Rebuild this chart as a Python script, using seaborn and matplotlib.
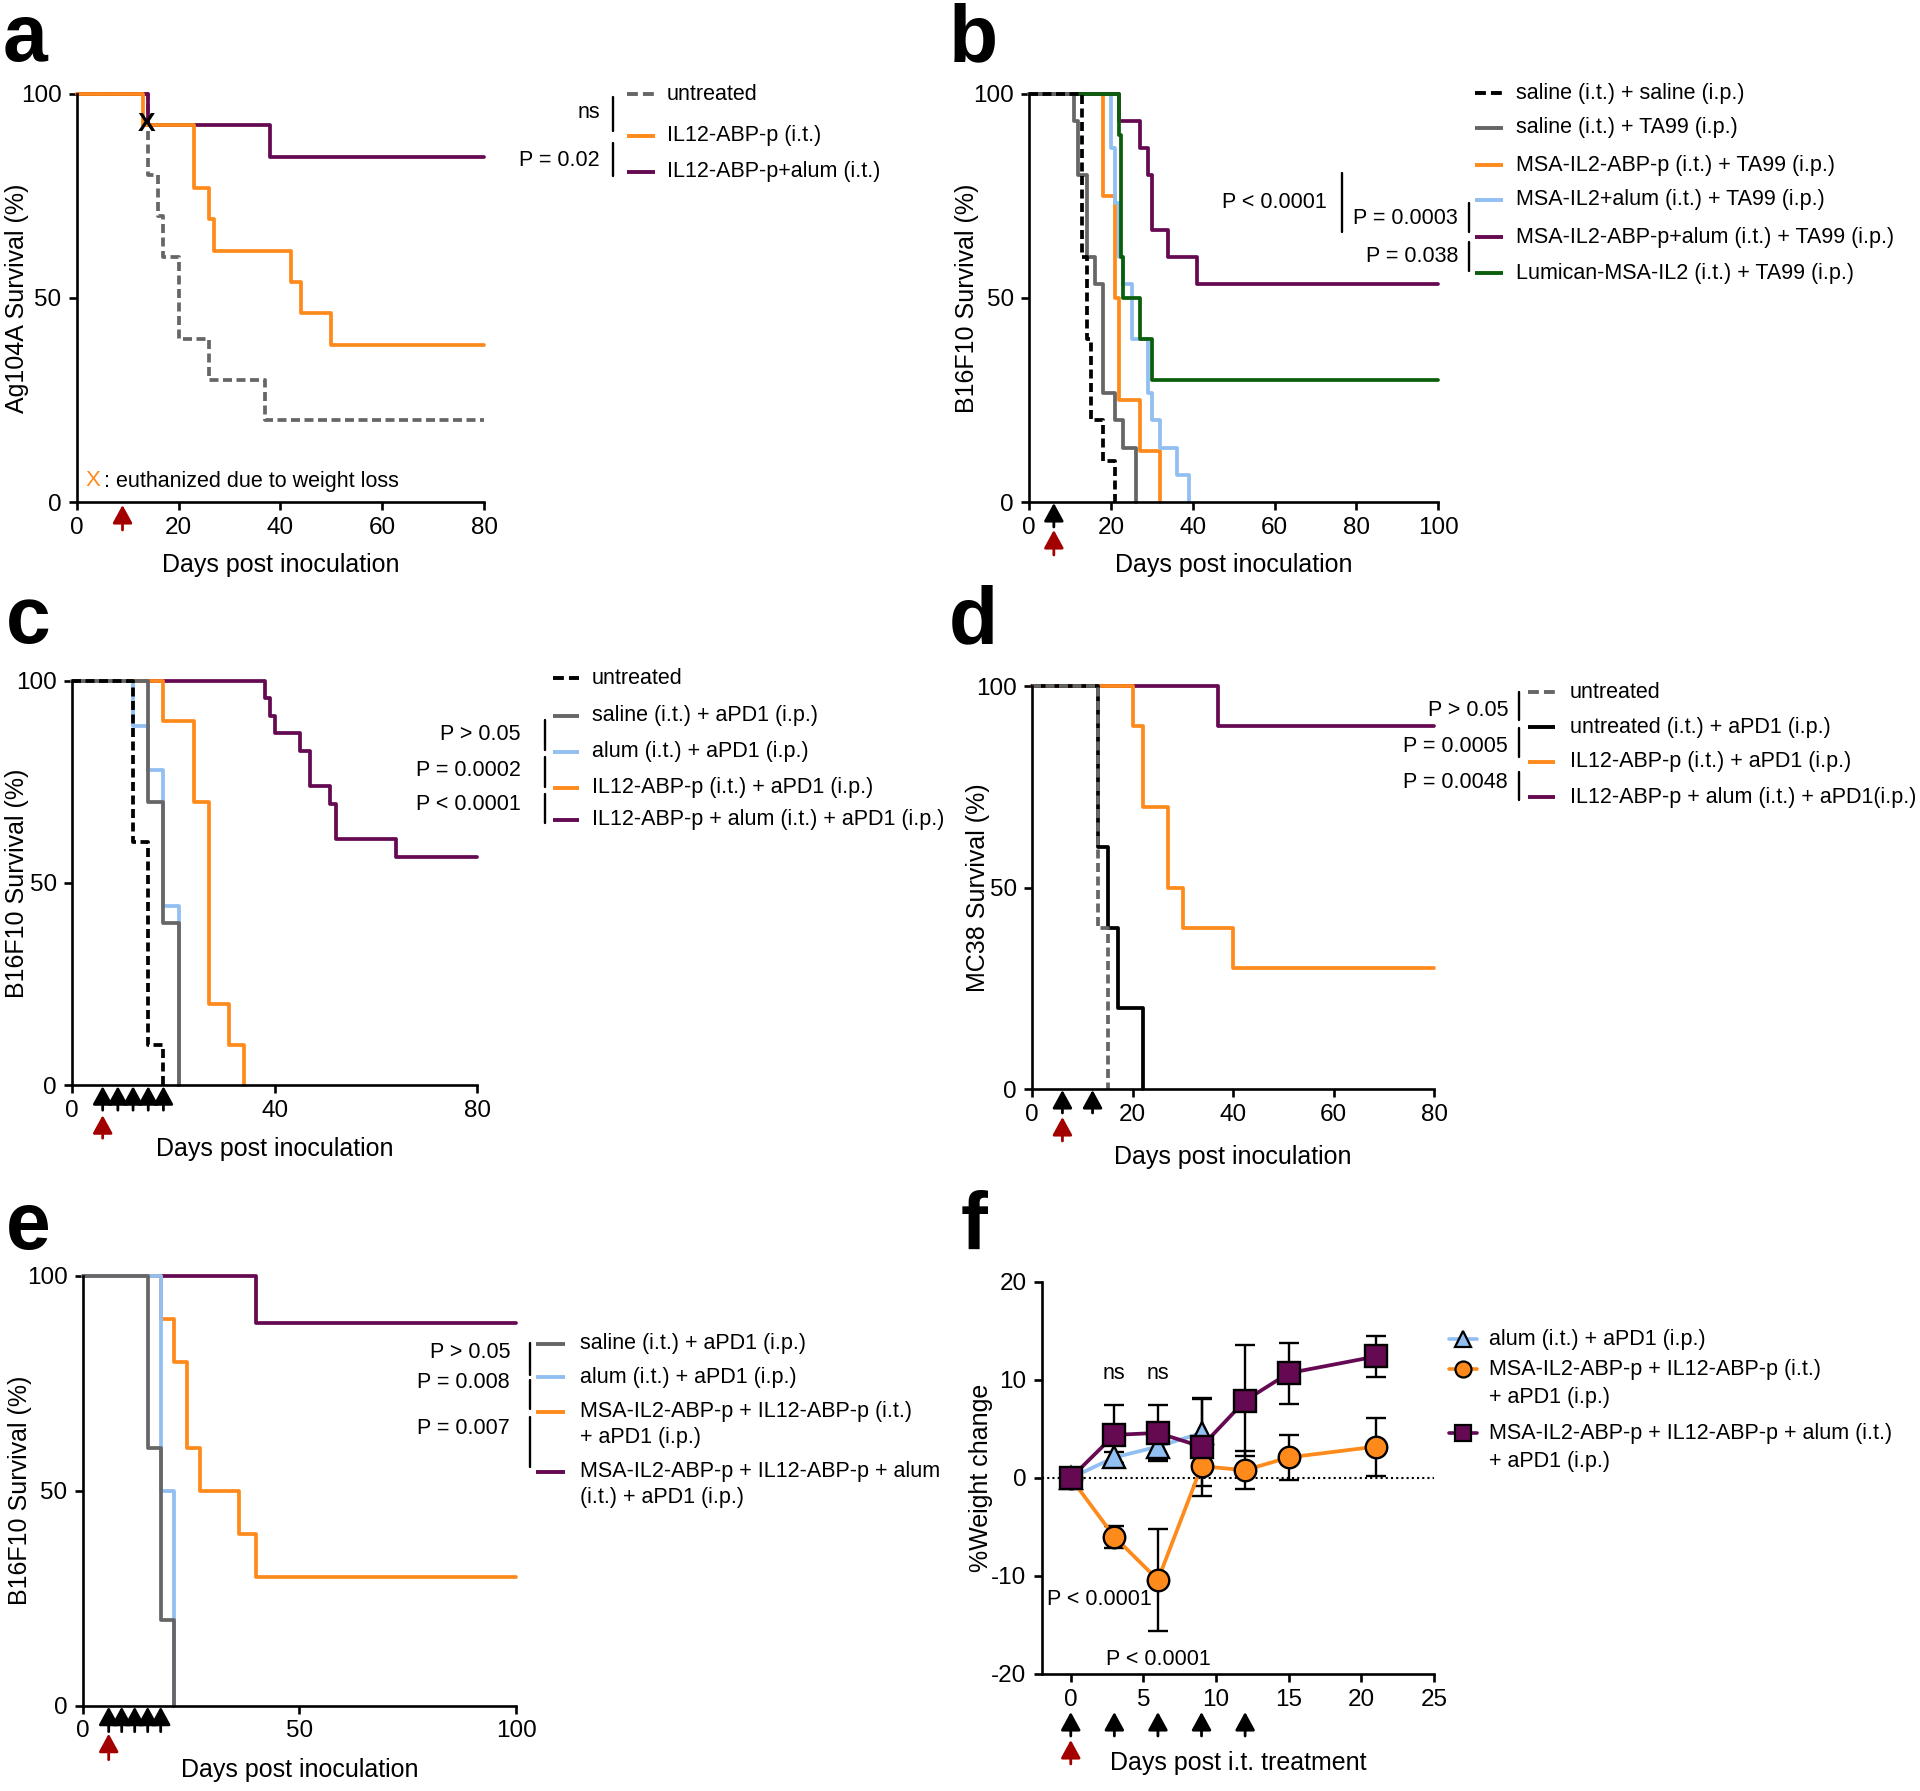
import matplotlib
matplotlib.use('Agg')
import matplotlib.pyplot as plt
from matplotlib.lines import Line2D
import seaborn as sns

W, H = 1920, 1791
DPI = 100

ORANGE = '#FF8A1C'
PURPLE = '#650A52'
LIGHTBLUE = '#92BFF2'
GRAY = '#666666'
GREEN = '#0B5E0B'
DARKRED = '#A30000'
BLACK = '#000000'

#### Data (days, % survival) -- Kaplan-Meier steps

# a: Ag104A
A_UNTREATED_DAYS = [0, 14, 16, 17, 20, 26, 37, 80]
A_UNTREATED_SURV = [100, 80, 70, 60, 40, 30, 20, 20]
A_IL12_DAYS = [0, 13, 23, 26, 27, 42, 44, 50, 80]
A_IL12_SURV = [100, 92.3, 76.9, 69.2, 61.5, 53.8, 46.2, 38.5, 38.5]
A_IL12_ALUM_DAYS = [0, 14, 38, 80]
A_IL12_ALUM_SURV = [100, 92.3, 84.6, 84.6]
A_RED_ARROWS = [9]

# b: B16F10 + TA99
B_SAL_SAL_DAYS = [0, 13, 14, 15, 18, 21]
B_SAL_SAL_SURV = [100, 60, 40, 20, 10, 0]
B_SAL_TA99_DAYS = [0, 11, 12, 14, 16, 18, 21, 23, 26]
B_SAL_TA99_SURV = [100, 93.3, 80, 60, 53.3, 26.7, 20, 13.3, 0]
B_MSA_ABP_DAYS = [0, 18, 21, 22, 27, 32]
B_MSA_ABP_SURV = [100, 75, 50, 25, 12.5, 0]
B_MSA_ALUM_DAYS = [0, 20, 21, 22, 23, 25, 29, 30, 32, 36, 39]
B_MSA_ALUM_SURV = [100, 86.7, 73.3, 60, 53.3, 40, 26.7, 20, 13.3, 6.7, 0]
B_MSA_ABP_ALUM_DAYS = [0, 22, 27, 29, 30, 34, 41, 100]
B_MSA_ABP_ALUM_SURV = [100, 93.3, 86.7, 80, 66.7, 60, 53.3, 53.3]
B_LUMICAN_DAYS = [0, 22, 22.5, 23, 27, 30, 100]
B_LUMICAN_SURV = [100, 90, 60, 50, 40, 30, 30]
B_BLACK_ARROWS = [6]
B_RED_ARROWS = [6]

# c: B16F10 + aPD1
C_UNTREATED_DAYS = [0, 12, 15, 18]
C_UNTREATED_SURV = [100, 60, 10, 0]
C_SALINE_DAYS = [0, 15, 18, 21]
C_SALINE_SURV = [100, 70, 40, 0]
C_ALUM_DAYS = [0, 12, 15, 18, 21]
C_ALUM_SURV = [100, 88.9, 77.8, 44.4, 0]
C_IL12_DAYS = [0, 18, 24, 27, 31, 34]
C_IL12_SURV = [100, 90, 70, 20, 10, 0]
C_IL12_ALUM_DAYS = [0, 38, 39, 40, 45, 47, 51, 52, 64, 80]
C_IL12_ALUM_SURV = [100, 95.7, 91.3, 87.0, 82.6, 73.9, 69.6, 60.9, 56.5, 56.5]
C_BLACK_ARROWS = [6, 9, 12, 15, 18]
C_RED_ARROWS = [6]

# d: MC38
D_UNTREATED_DAYS = [0, 13, 15]
D_UNTREATED_SURV = [100, 40, 0]
D_APD1_DAYS = [0, 13, 15, 17, 22]
D_APD1_SURV = [100, 60, 40, 20, 0]
D_IL12_DAYS = [0, 20, 22, 27, 30, 40, 80]
D_IL12_SURV = [100, 90, 70, 50, 40, 30, 30]
D_IL12_ALUM_DAYS = [0, 37, 80]
D_IL12_ALUM_SURV = [100, 90, 90]
D_BLACK_ARROWS = [6, 12]
D_RED_ARROWS = [6]

# e: B16F10 combo
E_SALINE_DAYS = [0, 15, 18, 21]
E_SALINE_SURV = [100, 60, 20, 0]
E_ALUM_DAYS = [0, 18, 21]
E_ALUM_SURV = [100, 50, 0]
E_MSA_IL12_DAYS = [0, 18, 21, 24, 27, 36, 40, 100]
E_MSA_IL12_SURV = [100, 90, 80, 60, 50, 40, 30, 30]
E_MSA_IL12_ALUM_DAYS = [0, 40, 100]
E_MSA_IL12_ALUM_SURV = [100, 88.9, 88.9]
E_BLACK_ARROWS = [6, 9, 12, 15, 18]
E_RED_ARROWS = [6]

# f: weight change (mean, SD)
F_ALUM_DAYS = [0, 3, 6, 9]
F_ALUM_MEAN = [0, 2.1, 3.2, 4.6]
F_ALUM_SD = [0, 0.6, 1.4, 3.5]
F_MSA_IL12_DAYS = [0, 3, 6, 9, 12, 15, 21]
F_MSA_IL12_MEAN = [0, -6.0, -10.4, 1.2, 0.8, 2.1, 3.2]
F_MSA_IL12_SD = [0, 1.15, 5.2, 2.0, 1.95, 2.3, 2.95]
F_MSA_IL12_ALUM_DAYS = [0, 3, 6, 9, 12, 15, 21]
F_MSA_IL12_ALUM_MEAN = [0, 4.4, 4.6, 3.2, 7.9, 10.7, 12.4]
F_MSA_IL12_ALUM_SD = [0, 3.1, 2.9, 5.0, 5.7, 3.1, 2.05]
F_BLACK_ARROWS = [0, 3, 6, 9, 12]
F_RED_ARROWS = [0]

#### Layout (pixel boxes: left, top, right, bottom)
BOX_A = (76.7, 93.7, 484, 502)
BOX_B = (1029.3, 93.7, 1438.3, 502)
BOX_C = (72.3, 680.6, 477.3, 1085.2)
BOX_D = (1032.3, 686.2, 1434, 1089)
BOX_E = (82.7, 1275.7, 516, 1705.7)
BOX_F = (1041.7, 1282, 1434, 1674)

LW = 2.7
DASH = (0, (2.4, 1.2))
FS = 15.5

sns.set_theme(style='ticks', rc={'axes.edgecolor': 'black', 'text.color': 'black',
                                 'axes.labelcolor': 'black', 'xtick.color': 'black',
                                 'ytick.color': 'black'})
plt.rcParams['font.family'] = ['Liberation Sans', 'DejaVu Sans']
plt.rcParams['axes.unicode_minus'] = False

fig = plt.figure(figsize=(W / DPI, H / DPI), dpi=DPI)


def add_px_axes(box):
  l, t, r, b = box
  return fig.add_axes([l / W, 1 - b / H, (r - l) / W, (b - t) / H])


def style_axes(ax, box, ylabel, xlabel, ylab_x, xlab_top):
  l, t, r, b = box
  sns.despine(ax=ax)
  ax.set_facecolor('none')
  for s in ('left', 'bottom'):
    ax.spines[s].set_linewidth(1.9)
    ax.spines[s].set_color('black')
  ax.tick_params(axis='both', length=6, width=1.9, labelsize=17.5)
  ax.tick_params(axis='x', pad=4.5)
  ax.tick_params(axis='y', pad=5)
  ax.set_ylabel(ylabel, fontsize=18)
  ax.set_xlabel(xlabel, fontsize=18)
  ax.yaxis.set_label_coords((ylab_x - l) / (r - l), 0.5)
  ax.xaxis.set_label_coords(0.5, (b - xlab_top) / (b - t))


def surv_axes(box, xmax, xticks, ylabel, ylab_x, xlab_top):
  ax = add_px_axes(box)
  ax.set_xlim(0, xmax)
  ax.set_ylim(0, 100)
  ax.set_xticks(xticks)
  ax.set_yticks([0, 50, 100])
  style_axes(ax, box, ylabel, 'Days post inoculation', ylab_x, xlab_top)
  return ax


def km(ax, days, surv, color, ls='-', z=2):
  sns.lineplot(x=days, y=surv, ax=ax, color=color, linewidth=LW, linestyle=ls,
               drawstyle='steps-post', estimator=None, sort=False, clip_on=False, zorder=z)


def arrows(ax, box, days, tip_px, tail_px, color):
  l, t, r, b = box
  h = b - t
  tr = ax.get_xaxis_transform()
  for d in days:
    ax.annotate('', xy=(d, -tip_px / h), xytext=(d, -tail_px / h), xycoords=tr, textcoords=tr,
                annotation_clip=False,
                arrowprops=dict(arrowstyle='-|>,head_length=0.55,head_width=0.3', color=color,
                                lw=2, shrinkA=0, shrinkB=0, mutation_scale=20))


#### a
ax = surv_axes(BOX_A, 80, [0, 20, 40, 60, 80], 'Ag104A Survival (%)', 29, 553)
km(ax, A_UNTREATED_DAYS, A_UNTREATED_SURV, GRAY, ls=DASH, z=2)
km(ax, A_IL12_ALUM_DAYS, A_IL12_ALUM_SURV, PURPLE, z=2.1)
km(ax, A_IL12_DAYS, A_IL12_SURV, ORANGE, z=2.2)
ax.text(13.7, 92.7, 'X', fontsize=19, fontweight='bold', ha='center', va='center', zorder=6)
arrows(ax, BOX_A, A_RED_ARROWS, 3, 28, DARKRED)

#### b
ax = surv_axes(BOX_B, 100, [0, 20, 40, 60, 80, 100], 'B16F10 Survival (%)', 979, 553)
km(ax, B_MSA_ABP_DAYS, B_MSA_ABP_SURV, ORANGE, z=2)
km(ax, B_MSA_ALUM_DAYS, B_MSA_ALUM_SURV, LIGHTBLUE, z=2.1)
km(ax, B_MSA_ABP_ALUM_DAYS, B_MSA_ABP_ALUM_SURV, PURPLE, z=2.2)
km(ax, B_LUMICAN_DAYS, B_LUMICAN_SURV, GREEN, z=2.3)
km(ax, B_SAL_TA99_DAYS, B_SAL_TA99_SURV, GRAY, z=2.4)
km(ax, B_SAL_SAL_DAYS, B_SAL_SAL_SURV, BLACK, ls=DASH, z=2.5)
arrows(ax, BOX_B, B_BLACK_ARROWS, 1, 25, BLACK)
arrows(ax, BOX_B, B_RED_ARROWS, 28, 53, DARKRED)

#### c
ax = surv_axes(BOX_C, 80, [0, 40, 80], 'B16F10 Survival (%)', 29, 1137)
km(ax, C_IL12_ALUM_DAYS, C_IL12_ALUM_SURV, PURPLE, z=2)
km(ax, C_IL12_DAYS, C_IL12_SURV, ORANGE, z=2.1)
km(ax, C_ALUM_DAYS, C_ALUM_SURV, LIGHTBLUE, z=2.2)
km(ax, C_SALINE_DAYS, C_SALINE_SURV, GRAY, z=2.3)
km(ax, C_UNTREATED_DAYS, C_UNTREATED_SURV, BLACK, ls=DASH, z=2.4)
arrows(ax, BOX_C, C_BLACK_ARROWS, 1, 25, BLACK)
arrows(ax, BOX_C, C_RED_ARROWS, 30, 53, DARKRED)

#### d
ax = surv_axes(BOX_D, 80, [0, 20, 40, 60, 80], 'MC38 Survival (%)', 990, 1145)
km(ax, D_IL12_ALUM_DAYS, D_IL12_ALUM_SURV, PURPLE, z=2)
km(ax, D_IL12_DAYS, D_IL12_SURV, ORANGE, z=2.1)
km(ax, D_APD1_DAYS, D_APD1_SURV, BLACK, z=2.2)
km(ax, D_UNTREATED_DAYS, D_UNTREATED_SURV, GRAY, ls=DASH, z=2.3)
arrows(ax, BOX_D, D_BLACK_ARROWS, 1, 24, BLACK)
arrows(ax, BOX_D, D_RED_ARROWS, 28, 52, DARKRED)

#### e
ax = surv_axes(BOX_E, 100, [0, 50, 100], 'B16F10 Survival (%)', 32, 1758)
km(ax, E_MSA_IL12_ALUM_DAYS, E_MSA_IL12_ALUM_SURV, PURPLE, z=2)
km(ax, E_MSA_IL12_DAYS, E_MSA_IL12_SURV, ORANGE, z=2.1)
km(ax, E_ALUM_DAYS, E_ALUM_SURV, LIGHTBLUE, z=2.2)
km(ax, E_SALINE_DAYS, E_SALINE_SURV, GRAY, z=2.3)
arrows(ax, BOX_E, E_BLACK_ARROWS, 1, 26, BLACK)
arrows(ax, BOX_E, E_RED_ARROWS, 28, 54, DARKRED)

#### f
ax = add_px_axes(BOX_F)
ax.set_xlim(-2, 25)
ax.set_ylim(-20, 20)
ax.set_xticks([0, 5, 10, 15, 20, 25])
ax.set_yticks([-20, -10, 0, 10, 20])
style_axes(ax, BOX_F, '%Weight change', 'Days post i.t. treatment', 993, 1751)
ax.axhline(0, color='black', lw=1.5, ls=(0, (1, 1.5)), zorder=1)

series_f = [
  (F_ALUM_DAYS, F_ALUM_MEAN, F_ALUM_SD, LIGHTBLUE, '^', 3),
  (F_MSA_IL12_DAYS, F_MSA_IL12_MEAN, F_MSA_IL12_SD, ORANGE, 'o', 3.2),
  (F_MSA_IL12_ALUM_DAYS, F_MSA_IL12_ALUM_MEAN, F_MSA_IL12_ALUM_SD, PURPLE, 's', 3.4),
]
for days, mean, sd, col, mk, z in series_f:
  keep = [i for i in range(len(days)) if sd[i] > 0]
  ax.errorbar([days[i] for i in keep], [mean[i] for i in keep], yerr=[sd[i] for i in keep],
              fmt='none', ecolor='black', elinewidth=1.7, capsize=7, capthick=1.7, zorder=2)
  sns.lineplot(x=days, y=mean, ax=ax, color=col, linewidth=2.7, marker=mk, markersize=15.5,
               markerfacecolor=col, markeredgecolor='black', markeredgewidth=1.7,
               estimator=None, sort=False, zorder=z)
ax.text(3, 10.7, 'ns', fontsize=FS, ha='center', va='center')
ax.text(6, 10.7, 'ns', fontsize=FS, ha='center', va='center')
ax.text(2.0, -12.4, 'P < 0.0001', fontsize=FS, ha='center', va='center')
ax.text(6.0, -18.5, 'P < 0.0001', fontsize=FS, ha='center', va='center')
arrows(ax, BOX_F, F_BLACK_ARROWS, 38, 62, BLACK)
arrows(ax, BOX_F, F_RED_ARROWS, 66, 90, DARKRED)

#### Overlay for legends, brackets, panel letters (pixel coordinates)
ov = fig.add_axes([0, 0, 1, 1])
ov.set_xlim(0, W)
ov.set_ylim(H, 0)
ov.axis('off')
ov.patch.set_alpha(0)


def leg_rows(x0, x1, xt, rows):
  for y, label, col, ls in rows:
    ov.add_line(Line2D([x0, x1], [y, y], color=col, lw=2.8, ls=ls, solid_capstyle='butt'))
    for k, part in enumerate(label.split('\n')):
      ov.text(xt, y + k * 26, part, fontsize=FS, va='center', ha='left')


def bars(x, spans):
  for y0, y1 in spans:
    ov.add_line(Line2D([x, x], [y0, y1], color='black', lw=1.7))


def ptexts(x, items, ha='right'):
  for y, s in items:
    ov.text(x, y, s, fontsize=FS, va='center', ha=ha)


DSH = (0, (2.8, 1.3))

# a legend
leg_rows(627, 655, 667, [(94, 'untreated', GRAY, DSH),
                         (136, 'IL12-ABP-p (i.t.)', ORANGE, '-'),
                         (172, 'IL12-ABP-p+alum (i.t.)', PURPLE, '-')])
bars(613, [(97, 131), (143, 176)])
ptexts(600, [(112, 'ns'), (160, 'P = 0.02')])
ov.text(85, 481, 'X', fontsize=16, color=ORANGE, va='center', ha='left')
ov.text(104, 481, ': euthanized due to weight loss', fontsize=FS, va='center', ha='left')

# b legend
leg_rows(1475, 1503, 1516, [(93, 'saline (i.t.) + saline (i.p.)', BLACK, DSH),
                            (128, 'saline (i.t.) + TA99 (i.p.)', GRAY, '-'),
                            (165, 'MSA-IL2-ABP-p (i.t.) + TA99 (i.p.)', ORANGE, '-'),
                            (200, 'MSA-IL2+alum (i.t.) + TA99 (i.p.)', LIGHTBLUE, '-'),
                            (237, 'MSA-IL2-ABP-p+alum (i.t.) + TA99 (i.p.)', PURPLE, '-'),
                            (273, 'Lumican-MSA-IL2 (i.t.) + TA99 (i.p.)', GREEN, '-')])
bars(1469, [(203, 232), (242, 271)])
bars(1342, [(173, 232)])
ptexts(1327, [(203, 'P < 0.0001')])
ptexts(1458, [(219, 'P = 0.0003'), (257, 'P = 0.038')])

# c legend
leg_rows(553, 579, 592, [(678, 'untreated', BLACK, DSH),
                         (716, 'saline (i.t.) + aPD1 (i.p.)', GRAY, '-'),
                         (752, 'alum (i.t.) + aPD1 (i.p.)', LIGHTBLUE, '-'),
                         (788, 'IL12-ABP-p (i.t.) + aPD1 (i.p.)', ORANGE, '-'),
                         (820, 'IL12-ABP-p + alum (i.t.) + aPD1 (i.p.)', PURPLE, '-')])
bars(545, [(720, 750), (757, 787), (794, 823)])
ptexts(521, [(735, 'P > 0.05'), (770, 'P = 0.0002'), (805, 'P < 0.0001')])

# d legend
leg_rows(1528, 1555, 1570, [(692, 'untreated', GRAY, DSH),
                            (727, 'untreated (i.t.) + aPD1 (i.p.)', BLACK, '-'),
                            (762, 'IL12-ABP-p (i.t.) + aPD1 (i.p.)', ORANGE, '-'),
                            (797, 'IL12-ABP-p + alum (i.t.) + aPD1(i.p.)', PURPLE, '-')])
bars(1519, [(692, 720), (728, 757), (772, 800)])
ptexts(1508, [(710, 'P > 0.05'), (747, 'P = 0.0005'), (782, 'P = 0.0048')])

# e legend
leg_rows(536, 565, 580, [(1344, 'saline (i.t.) + aPD1 (i.p.)', GRAY, '-'),
                         (1377, 'alum (i.t.) + aPD1 (i.p.)', LIGHTBLUE, '-'),
                         (1412, 'MSA-IL2-ABP-p + IL12-ABP-p (i.t.)\n+ aPD1 (i.p.)', ORANGE, '-'),
                         (1472, 'MSA-IL2-ABP-p + IL12-ABP-p + alum\n(i.t.) + aPD1 (i.p.)', PURPLE, '-')])
bars(530, [(1343, 1375), (1380, 1409), (1417, 1467)])
ptexts(510, [(1352, 'P > 0.05'), (1383, 'P = 0.008'), (1429, 'P = 0.007')])

# f legend
for y, label, col, mk in [(1339, 'alum (i.t.) + aPD1 (i.p.)', LIGHTBLUE, '^'),
                          (1369, 'MSA-IL2-ABP-p + IL12-ABP-p (i.t.)\n+ aPD1 (i.p.)', ORANGE, 'o'),
                          (1433, 'MSA-IL2-ABP-p + IL12-ABP-p + alum (i.t.)\n+ aPD1 (i.p.)', PURPLE, 's')]:
  ov.add_line(Line2D([1449, 1477], [y, y], color=col, lw=2.6))
  ov.add_line(Line2D([1463], [y], color=col, marker=mk, markersize=11.5,
                     markeredgecolor='black', markeredgewidth=1.6, lw=0))
  for k, part in enumerate(label.split('\n')):
    ov.text(1489, y + k * 29, part, fontsize=FS, va='center', ha='left')

# panel letters
for s, x, y in [('a', 3, 61), ('b', 949, 61), ('c', 6, 643), ('d', 949, 643),
                ('e', 6, 1249), ('f', 961, 1249)]:
  ov.text(x, y, s, fontsize=58, fontweight='bold', ha='left', va='baseline')

fig.savefig('out.png', dpi=DPI)
